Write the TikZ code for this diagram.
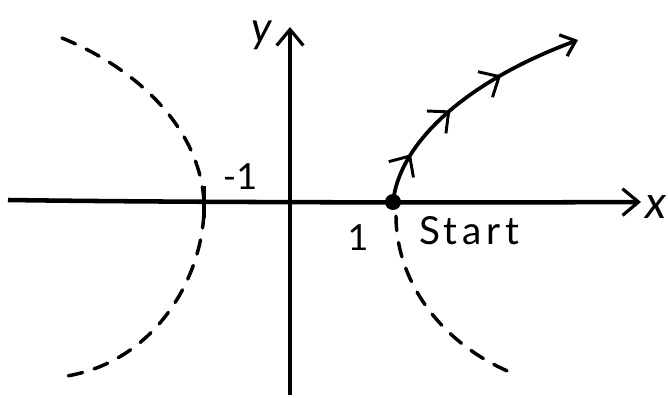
\documentclass[tikz,border=0pt]{standalone}
\usepackage{fontspec}
\setmainfont{Lato}
\usetikzlibrary{arrows.meta,decorations.markings}
\tikzset{
  axisline/.style={line width=3.4pt,-{Straight Barb[length=12pt,width=20pt,line width=2.4pt]}},
  dashcurve/.style={line width=2.6pt,dash pattern=on 11pt off 9pt,line cap=round},
  flowcurve/.style={line width=2.8pt,line cap=round,
    -{Straight Barb[length=10pt,width=17pt,line width=2.4pt]},
    postaction={decorate},
    decoration={markings,
      mark=at position 0.2 with {\arrow{Straight Barb[length=12pt,width=22pt,line width=2.2pt]}},
      mark=at position 0.43 with {\arrow{Straight Barb[length=12pt,width=22pt,line width=2.2pt]}},
      mark=at position 0.67 with {\arrow{Straight Barb[length=12pt,width=22pt,line width=2.2pt]}}}},
  lbl/.style={font=\fontsize{27}{30}\selectfont,inner sep=0pt}
}
\begin{document}
\begin{tikzpicture}[x=0.75pt,y=-0.75pt]
\useasboundingbox (0,0) rectangle (668,397);
% axes
\coordinate (xs) at (8,200);
\coordinate (xe) at (641,202);
\coordinate (ys) at (290,395);
\coordinate (ye) at (290,27);
\draw[axisline] (xs) .. controls (150,202) and (400,203) .. (xe);
\draw[axisline] (ys) -- (ye);
% left dashed branch
\draw[dashcurve] (62,38) .. controls (140,70) and (200,130) .. (204,202)
  .. controls (206,270) and (160,360) .. (67,376);
% right dashed lower branch
\draw[dashcurve] (396,216) .. controls (396,280) and (440,345) .. (517,375);
% tick at -1
\draw[line width=2.6pt] (204,186) -- (204,218);
% start point
\node[circle,fill=black,inner sep=0pt,minimum size=12pt] (st) at (393,202) {};
\coordinate (fe) at (578,40);
\draw[flowcurve] (st.center) .. controls (400,140) and (470,80) .. (fe);
% labels
\node[lbl] (m1) at (240,177) {-1};
\node[lbl] (one) at (358,238) {1};
\node[lbl,font=\fontsize{29}{32}\selectfont\addfontfeatures{LetterSpace=12}] (start) at (469,231) {Start};
\node[lbl,font=\fontsize{34}{36}\selectfont] (xl) at (656,207) {\itshape x};
\node[lbl,font=\fontsize{32}{36}\selectfont] (yl) at (262,35) {\itshape y};
\end{tikzpicture}
\end{document}
